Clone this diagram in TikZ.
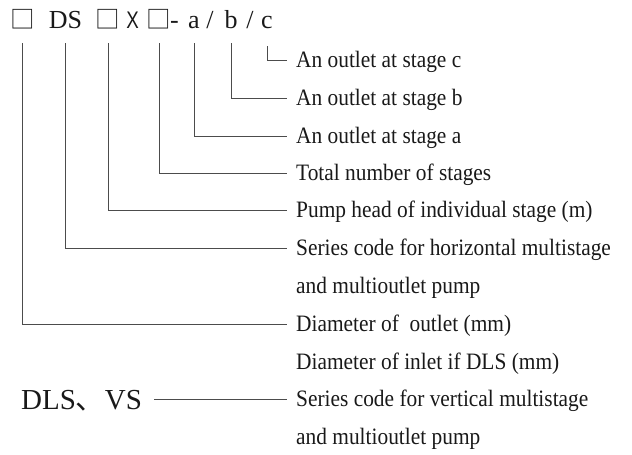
\documentclass[tikz,border=0pt]{standalone}
\usepackage{fontspec}
\setmainfont{Liberation Serif}
\newfontfamily\descfont[FakeStretch=0.91]{Liberation Serif}
\newfontfamily\cjkfont{Noto Sans CJK SC}
\newfontfamily\xfont[FakeStretch=0.78]{Liberation Sans}
\begin{document}
\begin{tikzpicture}[x=1pt,y=-1pt,
  code/.style={anchor=base, inner sep=0pt, font=\fontsize{26}{28}\selectfont, text=black!90},
  sq/.style={code, font=\cjkfont\fontsize{24.5}{28}\selectfont},
  desc/.style={anchor=west, inner xsep=9pt, inner ysep=0pt, text height=15pt, text depth=0pt,
    font=\descfont\fontsize{23.5}{26}\selectfont, text=black!90},
  lead/.style={draw=black!70, line width=0.8pt}]
\useasboundingbox (0,0) rectangle (632,455);
% code line
\node[sq] (k1) at (22.5,28.5) {□};
\node[code] (kds) at (65.5,28) {DS};
\node[sq] (k2) at (108,28.5) {□};
\node[code,font=\xfont\fontsize{24}{26}\selectfont] (kx) at (132.5,28) {X};
\node[sq] (k3) at (159,28.5) {□};
\node[code] (kdash) at (174.5,28) {-};
\node[code] (ka) at (194,28) {a};
\node[code] (ks1) at (210,28) {/};
\node[code] (kb) at (231,28) {b};
\node[code] (ks2) at (250,28) {/};
\node[code] (kc) at (267,28) {c};
% descriptions
\node[desc] (dc) at (287,60) {An outlet at stage c};
\node[desc] (db) at (287,98) {An outlet at stage b};
\node[desc] (da) at (287,136) {An outlet at stage a};
\node[desc] (dt) at (287,173) {Total number of stages};
\node[desc] (dp) at (287,210) {Pump head of individual stage (m)};
\node[desc] (ds) at (287,248) {Series code for horizontal multistage};
\node[desc] (ds2) at (287,286) {and multioutlet pump};
\node[desc] (dd) at (287,324) {Diameter of\ \ outlet (mm)};
\node[desc] (di) at (287,362) {Diameter of inlet if DLS (mm)};
\node[desc] (dv) at (287,399) {Series code for vertical multistage};
\node[desc] (dv2) at (287,437) {and multioutlet pump};
\node[anchor=base west, inner sep=0pt, text height=20pt, text depth=0pt,
  font=\fontsize{29}{31}\selectfont, text=black!90] (dls) at (21,409)
  {DLS{\cjkfont 、}VS};
% leaders
\coordinate (top) at (0,43);
\coordinate (ctop) at (0,46);
\draw[lead] (kc.south |- ctop) |- (dc.west);
\draw[lead] (kb.south |- top) |- (db.west);
\draw[lead] (ka.south |- top) |- (da.west);
\draw[lead] (k3.south |- top) |- (dt.west);
\draw[lead] (k2.south |- top) |- (dp.west);
\draw[lead] (kds.south |- top) |- (ds.west);
\draw[lead] (k1.south |- top) |- (dd.west);
\draw[lead] ([xshift=12pt]dls.east) -- (dv.west);
\end{tikzpicture}
\end{document}
